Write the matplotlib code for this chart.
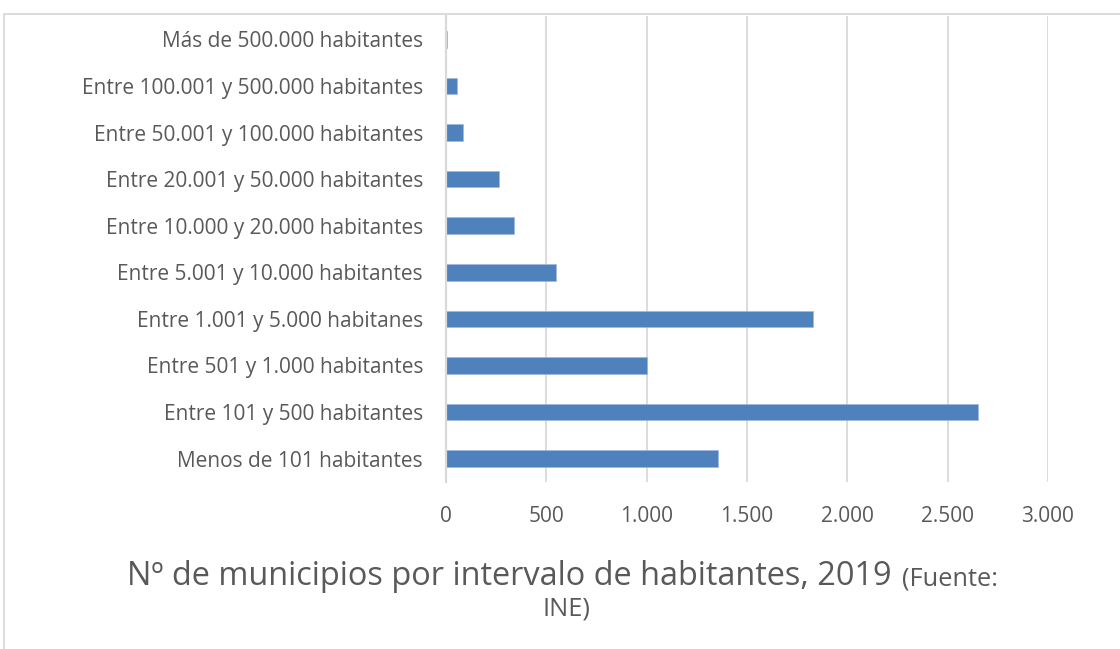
import matplotlib.pyplot as plt
from matplotlib.patches import Rectangle
import numpy as np

categorias = [
    "Menos de 101 habitantes",
    "Entre 101 y 500 habitantes",
    "Entre 501 y 1.000 habitantes",
    "Entre 1.001 y 5.000 habitanes",
    "Entre 5.001 y 10.000 habitantes",
    "Entre 10.000 y 20.000 habitantes",
    "Entre 20.001 y 50.000 habitantes",
    "Entre 50.001 y 100.000 habitantes",
    "Entre 100.001 y 500.000 habitantes",
    "Más de 500.000 habitantes",
]
municipios = [1353, 2649, 1003, 1831, 548, 339, 264, 85, 56, 6]
ticks = [0, 500, 1000, 1500, 2000, 2500, 3000]
tick_labels = ["0", "500", "1.000", "1.500", "2.000", "2.500", "3.000"]

gris = "#595959"
plt.rcParams["font.family"] = ["Open Sans", "DejaVu Sans"]

fig = plt.figure(figsize=(11.2, 6.49), dpi=100)
ax = fig.add_axes([446/1120, 1-482/649, (1048-446)/1120, (482-16)/649])

y = np.arange(len(categorias))
ax.barh(y, municipios, height=0.353, color="#4F81BD", edgecolor="#9DB8DC",
        linewidth=0.5, zorder=3)
ax.set_xlim(0, 3000)
ax.set_ylim(-0.5, len(categorias)-0.5)
ax.set_xticks(ticks)
ax.set_xticklabels(tick_labels)
ax.set_yticks(y)
ax.set_yticklabels(categorias)
ax.tick_params(axis="both", length=0, labelsize=15, colors=gris)
ax.tick_params(axis="y", pad=16.5)
ax.tick_params(axis="x", pad=17)
ax.grid(axis="x", color="#D9D9D9", linewidth=1.3, zorder=0)
for s in ["top", "right", "bottom"]:
    ax.spines[s].set_visible(False)
ax.spines["left"].set_color("#D9D9D9")
ax.spines["left"].set_linewidth(1.6)
ax.spines["left"].set_zorder(4)

# marco del grafico
fig.patches.append(Rectangle((4/1120, -0.1), 1.2, 1-14/649+0.1,
                             transform=fig.transFigure, fill=False,
                             edgecolor="#D9D9D9", linewidth=1.3))

# titulo
t1 = fig.text(127/1120, 1-585/649, "Nº de municipios por intervalo de habitantes, 2019",
              fontsize=23.4, color=gris, ha="left", va="baseline")
fig.canvas.draw()
bb = t1.get_window_extent()
fig.text((bb.x1 + 10)/1120, 1-585/649, "(Fuente:", fontsize=18.3, color=gris,
         ha="left", va="baseline")
fig.text(566/1120, 1-609/649, "INE)", fontsize=18.3, color=gris,
         ha="center", va="center")

fig.savefig("out.png", dpi=100)
